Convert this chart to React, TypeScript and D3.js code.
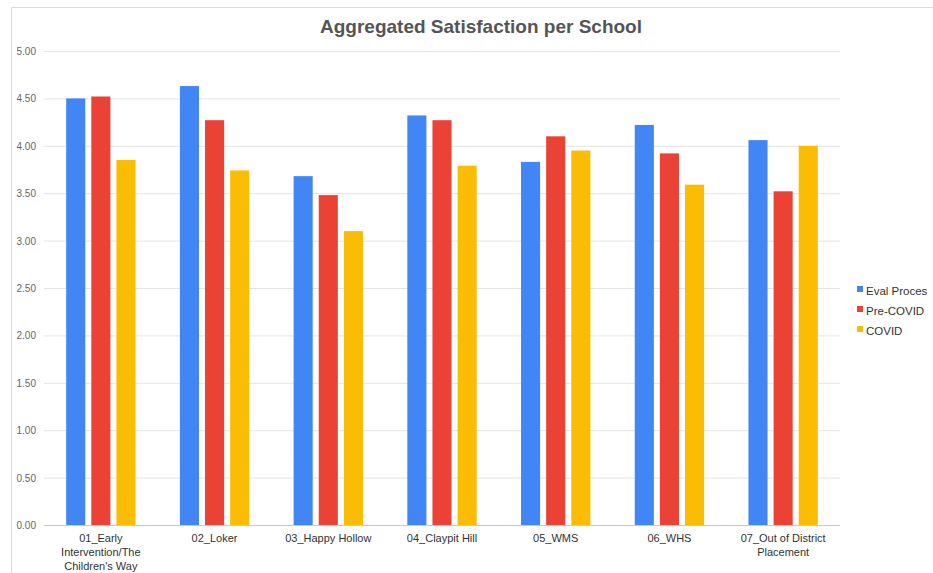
import React from "react";
import * as d3 from "d3";

const categories: string[][] = [
  ["01_Early", "Intervention/The", "Children's Way"],
  ["02_Loker"],
  ["03_Happy Hollow"],
  ["04_Claypit Hill"],
  ["05_WMS"],
  ["06_WHS"],
  ["07_Out of District", "Placement"],
];
const seriesNames = ["Eval Proces", "Pre-COVID", "COVID"];
const evalProcess = [4.5, 4.63, 3.68, 4.32, 3.83, 4.22, 4.06];
const preCovid = [4.52, 4.27, 3.48, 4.27, 4.1, 3.92, 3.52];
const covid = [3.85, 3.74, 3.1, 3.79, 3.95, 3.59, 4.0];
const yTicks = [0, 0.5, 1, 1.5, 2, 2.5, 3, 3.5, 4, 4.5, 5];
const colors = ["#4285f4", "#ea4335", "#fbbc04"];

const W = 933;
const H = 573;
const plot = { left: 44, right: 840, top: 51, bottom: 525 };
const font = "'Liberation Sans', Arial, sans-serif";

export default function App() {
  const series = [evalProcess, preCovid, covid];
  const x0 = d3
    .scaleBand<number>()
    .domain(d3.range(categories.length))
    .range([plot.left, plot.right])
    .paddingInner(0.39)
    .paddingOuter(0.195);
  const x1 = d3
    .scaleBand<number>()
    .domain(d3.range(series.length))
    .range([0, x0.bandwidth()])
    .paddingInner(0.24);
  const y = d3.scaleLinear().domain([0, 5]).range([plot.bottom, plot.top]);

  return (
    <svg
      width={W}
      height={H}
      style={{ position: "absolute", left: 0, top: 0, background: "#fff" }}
      fontFamily={font}
    >
      <rect x={0} y={0} width={W} height={H} fill="#fff" />
      <path d={`M11.5,${H} V7.5 H${W}`} fill="none" stroke="#dadada" strokeWidth={1} />
      <text
        x={481}
        y={33}
        textAnchor="middle"
        fontSize={19}
        fontWeight="bold"
        fill="#555"
      >
        Aggregated Satisfaction per School
      </text>
      {yTicks.map((t) => (
        <g key={t}>
          <line
            x1={plot.left}
            x2={plot.right}
            y1={y(t) + 0.5}
            y2={y(t) + 0.5}
            stroke={t === 0 ? "#c8c8c8" : "#e3e3e3"}
            strokeWidth={1}
          />
          <text
            x={36}
            y={y(t) + 4}
            textAnchor="end"
            fontSize={10}
            fill="#666"
          >
            {t.toFixed(2)}
          </text>
        </g>
      ))}
      {categories.map((c, i) => (
        <g key={i} transform={`translate(${x0(i)},0)`}>
          {series.map((s, j) => (
            <rect
              key={j}
              x={x1(j)}
              y={y(s[i])}
              width={x1.bandwidth()}
              height={y(0) - y(s[i])}
              fill={colors[j]}
            />
          ))}
          {c.map((line, k) => (
            <text
              key={k}
              x={x0.bandwidth() / 2}
              y={542 + k * 14}
              textAnchor="middle"
              fontSize={11}
              fill="#333"
            >
              {line}
            </text>
          ))}
        </g>
      ))}
      {seriesNames.map((n, j) => (
        <g key={n} transform={`translate(857,${290 + j * 20})`}>
          <rect x={0} y={-4} width={6} height={6} fill={colors[j]} />
          <text x={9} y={2} dominantBaseline="middle" fontSize={11.5} fill="#333">
            {n}
          </text>
        </g>
      ))}
    </svg>
  );
}
